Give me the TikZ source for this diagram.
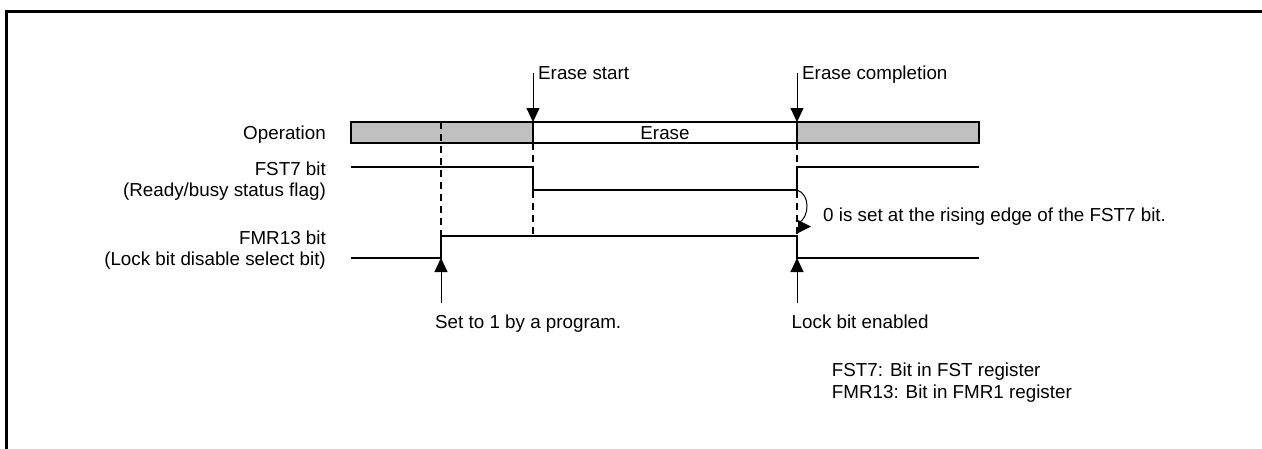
\documentclass[tikz,border=0pt]{standalone}
\usepackage{fontspec}
\setmainfont{Liberation Sans}
\usetikzlibrary{arrows.meta}
\definecolor{barGrey}{HTML}{C0C0C0}
\begin{document}
\begin{tikzpicture}[x=1pt,y=-1pt,
  font=\fontsize{18.8}{22}\selectfont,
  sig/.style={line width=2pt},
  dsh/.style={line width=2pt, dash pattern=on 7pt off 5pt},
  marker/.style={line width=1pt, -{Triangle[length=14pt,width=13pt]}},
  lbl/.style={inner sep=0pt, anchor=base east},
  txt/.style={inner sep=0pt, anchor=base west},
  ctxt/.style={inner sep=0pt, anchor=base}]
\useasboundingbox (0,0) rectangle (1262,448);
% frame
\draw[line width=3pt] (6,449) -- (6,11.5) -- (1263,11.5);

% operation bar
\draw[sig, fill=barGrey] (351,122) rectangle (533,143);
\draw[sig, fill=white] (533,122) rectangle (797,143);
\draw[sig, fill=barGrey] (797,122) rectangle (979,143);
\node[ctxt] (erase) at (665,139.5) {Erase};

% dashed guides
\draw[dsh] (441,122) -- (441,236);
\draw[dsh] (533,143) -- (533,236);
\draw[dsh] (797,143) -- (797,236);

% signals
\draw[sig] (351,167) -- (533,167) -- (533,190) -- (797,190) -- (797,167) -- (979,167);
\draw[sig] (351,258) -- (441,258) -- (441,236) -- (797,236) -- (797,258) -- (979,258);

% left labels
\node[lbl] (op) at (326,139.5) {Operation};
\node[lbl] (fst) at (326,175.5) {FST7 bit};
\node[lbl] (fstd) at (326,196.7) {(Ready/busy status flag)};
\node[lbl] (fmr) at (326,244) {FMR13 bit};
\node[lbl] (fmrd) at (326,265) {(Lock bit disable select bit)};

% top markers
\coordinate (esTop) at (533,73);
\coordinate (esBot) at (533,122);
\coordinate (ecTop) at (797,73);
\coordinate (ecBot) at (797,122);
\draw[marker] (esTop) -- (esBot);
\draw[marker] (ecTop) -- (ecBot);
\node[txt] (es) at (538,79.3) {Erase start};
\node[txt] (ec) at (802,79.3) {Erase completion};

% bottom markers
\coordinate (s1Bot) at (441,303);
\coordinate (s1Top) at (441,258);
\coordinate (lbBot) at (797,303);
\coordinate (lbTop) at (797,258);
\draw[marker] (s1Bot) -- (s1Top);
\draw[marker] (lbBot) -- (lbTop);
\node[txt] (set1) at (435,328.3) {Set to 1 by a program.};
\node[txt] (lbe) at (791.5,328.3) {Lock bit enabled};

% curved arrow
\coordinate (cStart) at (797,190);
\coordinate (cEnd) at (799,223);
\draw[line width=1pt] (cStart) .. controls (810,194) and (810,216) .. (cEnd);
\fill (798,220) -- (811,226.5) -- (798,233) -- cycle;
\node[txt] (zero) at (823,221.5) {0 is set at the rising edge of the FST7 bit.};

% notes
\node[txt] (n1) at (831.7,376.7) {FST7: Bit in FST register};
\node[txt] (n2) at (831.7,398.3) {FMR13: Bit in FMR1 register};
\end{tikzpicture}
\end{document}
